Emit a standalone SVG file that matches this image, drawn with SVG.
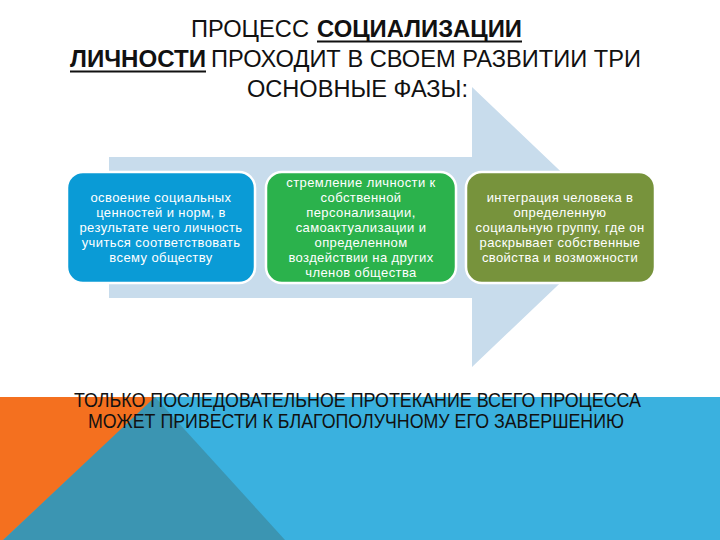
<svg xmlns="http://www.w3.org/2000/svg" width="720" height="540" viewBox="0 0 720 540">
<style>
.t{font-family:"Liberation Sans",Arial,sans-serif;fill:#111;font-size:23px}
.b{font-weight:bold}
.bt{font-family:"Liberation Sans",Arial,sans-serif;fill:#111;font-size:21px}
.n{font-family:"Liberation Sans",Arial,sans-serif;fill:#fff;font-size:13px;letter-spacing:0.4px;text-anchor:middle}
.box{stroke:#fff;stroke-width:2.5}
.ul{stroke:#111;stroke-width:2}
</style>
<rect width="720" height="540" fill="#fff"/>
<g id="background">
<rect x="0" y="397" width="720" height="143" fill="#3AB1DF"/>
<polygon points="0,397 156,397 0,543" fill="#F4701F"/>
<polygon points="155,397 0,543 285,540" fill="#3B95B2"/>
</g>
<g id="title">
<text class="t" x="191" y="37" textLength="118" lengthAdjust="spacingAndGlyphs">ПРОЦЕСС</text>
<text class="t b" x="317" y="37" textLength="205" lengthAdjust="spacingAndGlyphs">СОЦИАЛИЗАЦИИ</text>
<line class="ul" x1="317" y1="41.5" x2="522" y2="41.5"/>
<text class="t b" x="70" y="67" textLength="136" lengthAdjust="spacingAndGlyphs">ЛИЧНОСТИ</text>
<line class="ul" x1="70" y1="71.5" x2="206" y2="71.5"/>
<text class="t" x="211" y="67" textLength="430" lengthAdjust="spacingAndGlyphs">ПРОХОДИТ В СВОЕМ РАЗВИТИИ ТРИ</text>
<text class="t" x="247" y="97" textLength="221" lengthAdjust="spacingAndGlyphs">ОСНОВНЫЕ ФАЗЫ:</text>
</g>
<g id="connectors">
<polygon points="109,157 472,157 472,87 619,227 472,367 472,298 109,298" fill="#C8DCEC"/>
</g>
<g id="node1">
<rect class="box" x="67" y="172" width="188" height="111" rx="16" fill="#0A9BD6"/>
<text class="n" x="161" y="202">освоение социальных</text>
<text class="n" x="161" y="217">ценностей и норм, в</text>
<text class="n" x="161" y="232">результате чего личность</text>
<text class="n" x="161" y="247">учиться соответствовать</text>
<text class="n" x="161" y="262">всему обществу</text>
</g>
<g id="node2">
<rect class="box" x="266" y="172" width="190" height="111" rx="16" fill="#2BB24C"/>
<text class="n" x="361" y="187">стремление личности к</text>
<text class="n" x="361" y="202">собственной</text>
<text class="n" x="361" y="217">персонализации,</text>
<text class="n" x="361" y="232">самоактуализации и</text>
<text class="n" x="361" y="247">определенном</text>
<text class="n" x="361" y="262">воздействии на других</text>
<text class="n" x="361" y="277">членов общества</text>
</g>
<g id="node3">
<rect class="box" x="466" y="172" width="189" height="111" rx="16" fill="#77933C"/>
<text class="n" x="560" y="202">интеграция  человека в</text>
<text class="n" x="560" y="217">определенную</text>
<text class="n" x="560" y="232">социальную группу, где он</text>
<text class="n" x="560" y="247">раскрывает собственные</text>
<text class="n" x="560" y="262">свойства и возможности</text>
</g>
<g id="footer">
<text class="bt" x="74" y="407" textLength="567" lengthAdjust="spacingAndGlyphs">ТОЛЬКО ПОСЛЕДОВАТЕЛЬНОЕ ПРОТЕКАНИЕ ВСЕГО ПРОЦЕССА</text>
<text class="bt" x="88" y="428" textLength="536" lengthAdjust="spacingAndGlyphs">МОЖЕТ ПРИВЕСТИ К БЛАГОПОЛУЧНОМУ ЕГО ЗАВЕРШЕНИЮ</text>
</g>
</svg>
